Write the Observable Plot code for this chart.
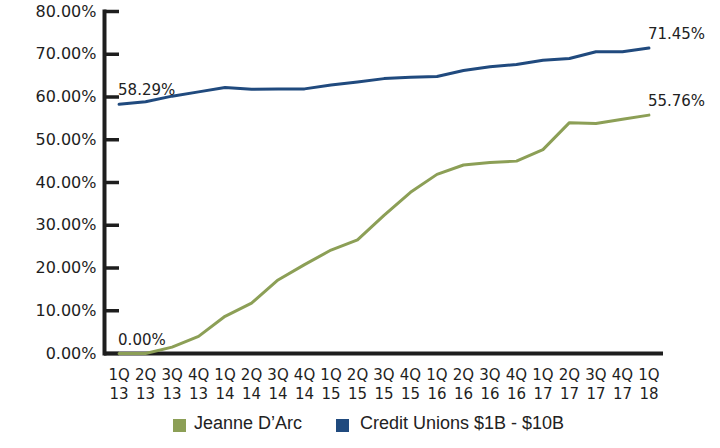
<!DOCTYPE html>
<html>
<head>
<meta charset="utf-8">
<script src="https://cdn.jsdelivr.net/npm/d3@7"></script>
<script src="https://cdn.jsdelivr.net/npm/@observablehq/plot@0.6"></script>
<style>
  html, body { margin: 0; padding: 0; background: #fff; }
  #wrap { position: relative; width: 720px; height: 448px; overflow: hidden; }
  .lg-sw { position: absolute; width: 13px; height: 13px; top: 419px; }
  .lg-tx { position: absolute; top: 414px; font: 18px/18px "Liberation Sans", Arial, sans-serif; color: #222; white-space: nowrap; }
</style>
</head>
<body>
<div id="wrap"><div id="chart"></div></div>
<script>
const quarters = ["1Q 13","2Q 13","3Q 13","4Q 13","1Q 14","2Q 14","3Q 14","4Q 14","1Q 15","2Q 15","3Q 15","4Q 15","1Q 16","2Q 16","3Q 16","4Q 16","1Q 17","2Q 17","3Q 17","4Q 17","1Q 18"];
const jeanneDArc = [0, 0, 1.5, 4.0, 8.7, 11.8, 17.2, 20.8, 24.2, 26.6, 32.3, 37.7, 41.9, 44.1, 44.7, 45.0, 47.7, 54.0, 53.8, 54.8, 55.76];
const creditUnions = [58.29, 58.9, 60.2, 61.2, 62.2, 61.8, 61.9, 61.9, 62.8, 63.5, 64.3, 64.6, 64.8, 66.2, 67.1, 67.6, 68.6, 69.0, 70.6, 70.6, 71.45];
const seriesNames = ["Jeanne D\u2019Arc", "Credit Unions $1B - $10B"];
const seriesColors = ["#8c9f56", "#204a7e"];
const yTicks = [0, 10, 20, 30, 40, 50, 60, 70, 80];

const seriesValues = [jeanneDArc, creditUnions];
const rows = [];
seriesValues.forEach((vals, s) => vals.forEach((v, i) => rows.push({q: quarters[i], v, s: seriesNames[s]})));
const endLabels = [];
seriesValues.forEach((vals, s) => {
  endLabels.push({q: quarters[0], v: vals[0], s: seriesNames[s]});
  endLabels.push({q: quarters[quarters.length - 1], v: vals[vals.length - 1], s: seriesNames[s]});
});

const chart = Plot.plot({
  width: 720,
  height: 410,
  marginLeft: 104,
  marginRight: 57,
  marginTop: 11,
  marginBottom: 57,
  style: {fontFamily: "DejaVu Sans", fontSize: "16px", color: "#1e1e1e", background: "#fff"},
  x: {type: "point", domain: quarters, padding: 0.55, round: false, label: null},
  y: {domain: [0, 80], label: null},
  color: {domain: seriesNames, range: seriesColors},
  marks: [
    Plot.axisY({ticks: yTicks, tickFormat: d => d.toFixed(2) + "%", tickSize: -15, tickPadding: 23, strokeWidth: 3.5, fontSize: 16}),
    Plot.axisX({tickSize: 0, tickPadding: 13, tickFormat: d => d.replace(" ", "\n"), fontSize: 15, lineHeight: 1.25}),
    Plot.frame({anchor: "left", strokeWidth: 4, stroke: "#1e1e1e"}),
    Plot.ruleY([0], {strokeWidth: 4, stroke: "#1e1e1e"}),
    Plot.lineY(rows, {x: "q", y: "v", z: "s", stroke: "s", strokeWidth: 3}),
    Plot.text(endLabels, {x: "q", y: "v", text: d => d.v.toFixed(2) + "%", textAnchor: "start", lineAnchor: "bottom", dx: -1, dy: -9, fontSize: 15, fill: "#222"})
  ]
});
document.getElementById("chart").appendChild(chart);

const wrap = document.getElementById("wrap");
const legendPos = [{sw: 173, tx: 194}, {sw: 336, tx: 360}];
seriesNames.forEach((name, i) => {
  const sw = document.createElement("div");
  sw.className = "lg-sw";
  sw.style.left = legendPos[i].sw + "px";
  sw.style.background = seriesColors[i];
  wrap.appendChild(sw);
  const tx = document.createElement("div");
  tx.className = "lg-tx";
  tx.style.left = legendPos[i].tx + "px";
  tx.textContent = name;
  wrap.appendChild(tx);
});
</script>
</body>
</html>
